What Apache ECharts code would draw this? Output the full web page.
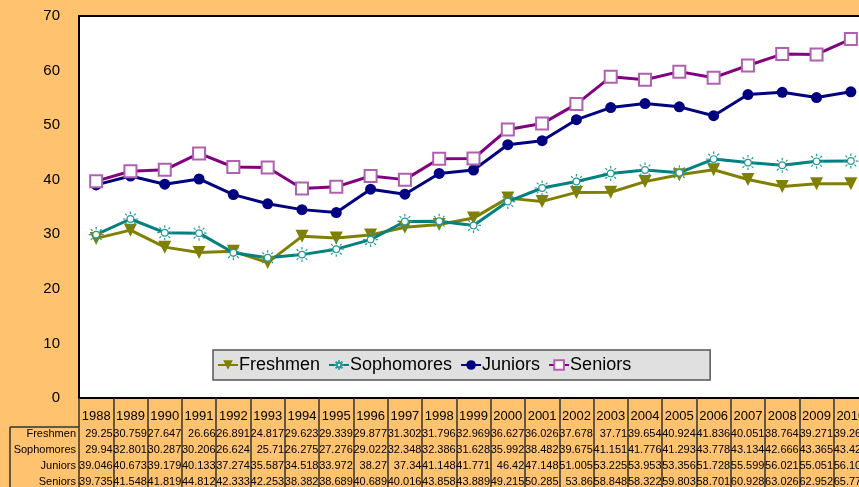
<!DOCTYPE html>
<html>
<head>
<meta charset="utf-8">
<script src="https://cdn.jsdelivr.net/npm/echarts@6/dist/echarts.min.js"></script>
<style>
  html, body { margin: 0; padding: 0; background: #FFC26E; }
  #chart { width: 859px; height: 487px; }
</style>
</head>
<body>
<div id="chart"></div>
<script>
var years = ['1988','1989','1990','1991','1992','1993','1994','1995','1996','1997','1998','1999',
             '2000','2001','2002','2003','2004','2005','2006','2007','2008','2009','2010'];
var freshmen = [29.25,30.759,27.647,26.66,26.891,24.817,29.623,29.339,29.877,31.302,31.796,32.969,
                36.627,36.026,37.678,37.71,39.654,40.924,41.836,40.051,38.764,39.271,39.262];
var sophomores = [29.94,32.801,30.287,30.206,26.624,25.71,26.275,27.276,29.022,32.348,32.386,31.628,
                  35.992,38.482,39.675,41.151,41.776,41.293,43.778,43.134,42.666,43.365,43.424];
var juniors = [39.046,40.673,39.179,40.133,37.274,35.587,34.518,33.972,38.27,37.34,41.148,41.771,
               46.42,47.148,51.005,53.225,53.953,53.356,51.728,55.599,56.021,55.051,56.104];
var seniors = [39.735,41.548,41.819,44.812,42.333,42.253,38.382,38.689,40.689,40.016,43.858,43.889,
               49.215,50.285,53.86,58.848,58.322,59.803,58.701,60.928,63.026,62.952,65.773];
var rowNames = ['Freshmen','Sophomores','Juniors','Seniors'];
var rows = [freshmen, sophomores, juniors, seniors];

var font = 'Liberation Sans, Arial, sans-serif';
var sunPath = 'path://M4,0A4,4 0 1 1 -4,0A4,4 0 1 1 4,0Z' +
  'M0,-6L0,-9M0,6L0,9M6,0L9,0M-6,0L-9,0M4.3,4.3L6.4,6.4M-4.3,-4.3L-6.4,-6.4M4.3,-4.3L6.4,-6.4M-4.3,4.3L-6.4,6.4';

var chart = echarts.init(document.getElementById('chart'));

// table rows under the plot: one extra x axis per row
var tableAxes = rows.map(function (arr, r) {
  return {
    type: 'category', gridIndex: 0, position: 'bottom', data: years,
    axisLine: { show: false }, axisTick: { show: false },
    axisLabel: {
      interval: 0, margin: 30 + r * 16, hideOverlap: false,
      formatter: function (v, i) { return '{v|' + arr[i] + '}'; },
      rich: { v: { width: 33, align: 'right', fontSize: 11, fontFamily: font, color: '#000' } }
    }
  };
});

var rowLabels = rowNames.map(function (n, r) {
  return {
    type: 'text', right: 859 - 76, top: 428 + r * 16,
    style: { text: n, font: '11px ' + font, fill: '#000', textAlign: 'right' }
  };
});

chart.setOption({
  animation: false,
  backgroundColor: '#FFC26E',
  grid: {
    left: 79, right: -9, top: 16, bottom: 89,
    outerBoundsMode: 'none', containLabel: false,
    show: true, backgroundColor: '#fff', borderColor: '#000', borderWidth: 2
  },
  legend: {
    left: 213, top: 350,
    padding: [6, 79, 6, 4],
    backgroundColor: '#E0E0E0', borderColor: '#555', borderWidth: 1.5,
    itemWidth: 20, itemHeight: 12, itemGap: 8,
    textStyle: { fontSize: 18, fontFamily: font, color: '#000', padding: [0, 0, 0, -4] },
    data: rowNames
  },
  xAxis: [{
    type: 'category', data: years, boundaryGap: true,
    axisLine: { lineStyle: { color: '#000', width: 2 } },
    axisTick: { show: true, length: 89, interval: 0, lineStyle: { color: '#333', width: 1.5 } },
    axisLabel: { interval: 0, margin: 12, fontSize: 13, fontFamily: font, color: '#000' }
  }].concat(tableAxes),
  yAxis: {
    type: 'value', min: 0, max: 70, interval: 10,
    axisLine: { show: false }, axisTick: { show: false }, splitLine: { show: false },
    axisLabel: { margin: 19, fontSize: 15, fontFamily: font, color: '#000' }
  },
  graphic: rowLabels.concat([
    { type: 'line', shape: { x1: 10, y1: 427, x2: 79, y2: 427 }, style: { stroke: '#333', lineWidth: 1.5 } },
    { type: 'line', shape: { x1: 10, y1: 427, x2: 10, y2: 487 }, style: { stroke: '#333', lineWidth: 1.5 } }
  ]),
  series: [
    {
      name: 'Freshmen', type: 'line', data: freshmen,
      symbol: 'triangle', symbolRotate: 180, symbolSize: 13,
      lineStyle: { color: '#808000', width: 3 },
      itemStyle: { color: '#808000' }
    },
    {
      name: 'Sophomores', type: 'line', data: sophomores,
      symbol: sunPath, symbolSize: 15,
      lineStyle: { color: '#008080', width: 3 },
      itemStyle: { color: '#fff', borderColor: '#2a9a9a', borderWidth: 1.2 }
    },
    {
      name: 'Juniors', type: 'line', data: juniors,
      symbol: 'circle', symbolSize: 11,
      lineStyle: { color: '#000080', width: 3 },
      itemStyle: { color: '#000080' }
    },
    {
      name: 'Seniors', type: 'line', data: seniors,
      symbol: 'emptyRect', symbolSize: 12,
      lineStyle: { color: '#800080', width: 3 },
      itemStyle: { color: '#b060b0', borderWidth: 1.5 }
    }
  ]
});
</script>
</body>
</html>
